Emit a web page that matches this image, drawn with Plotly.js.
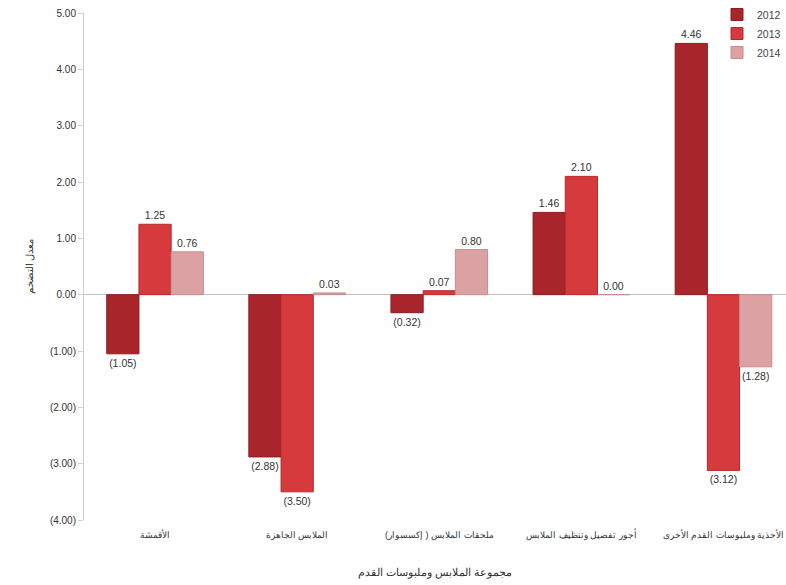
<!DOCTYPE html>
<html>
<head>
<meta charset="utf-8">
<script src="https://cdn.plot.ly/plotly-3.0.1.min.js"></script>
<style>html,body{margin:0;padding:0;background:#fff;}#chart{width:786px;height:585px;}</style>
</head>
<body>
<div id="chart"></div>
<script>
const categories = ["الأقمشة", "الملابس الجاهزة", "ملحقات الملابس ( إكسسوار)", "أجور تفصيل وتنظيف الملابس", "الأحذية وملبوسات القدم الأخرى"];
const values2012 = [-1.05, -2.88, -0.32, 1.46, 4.46];
const values2013 = [1.25, -3.50, 0.07, 2.10, -3.12];
const values2014 = [0.76, 0.03, 0.80, 0.00, -1.28];
const seriesNames = ["2012", "2013", "2014"];
const tickValues = [5, 4, 3, 2, 1, 0, -1, -2, -3, -4];
const tickLabels = ["5.00", "4.00", "3.00", "2.00", "1.00", "0.00", "(1.00)", "(2.00)", "(3.00)", "(4.00)"];

function fmt(v) {
  return v < 0 ? "(" + Math.abs(v).toFixed(2) + ")" : v.toFixed(2);
}
const colors = ["#a8262b", "#d63a3c", "#dca2a3"];
const lines = ["#8a1e22", "#b52a2d", "#c78c8d"];
const all = [values2012, values2013, values2014];

const traces = all.map((vals, i) => ({
  type: "bar",
  name: seriesNames[i],
  x: categories,
  y: vals,
  text: vals.map(fmt),
  textposition: "outside",
  cliponaxis: false,
  textfont: {family: "Liberation Sans, Arial, sans-serif", size: 10.5, color: "#333"},
  marker: {color: colors[i], line: {color: lines[i], width: 1}},
  hoverinfo: "none"
}));

const layout = {
  width: 786,
  height: 585,
  margin: {l: 84, r: 0, t: 0, b: 65},
  paper_bgcolor: "#fff",
  plot_bgcolor: "#fff",
  barmode: "group",
  bargap: 0.32,
  bargroupgap: 0,
  font: {family: "Liberation Sans, Arial, sans-serif", size: 10, color: "#333"},
  showlegend: true,
  legend: {
    x: 1, xanchor: "right", y: 1, yanchor: "top",
    font: {size: 10.5, color: "#444"},
    itemwidth: 30,
    tracegroupgap: 0,
    bgcolor: "rgba(0,0,0,0)"
  },
  xaxis: {
    range: [-0.5, 4.44],
    showgrid: false,
    zeroline: false,
    showline: false,
    ticks: "",
    ticklabelstandoff: 8,
    tickfont: {size: 9, color: "#333"},
    title: {text: "مجموعة الملابس وملبوسات القدم", font: {size: 11, color: "#333"}, standoff: 28},
    automargin: false
  },
  yaxis: {
    domain: [0, 0.975],
    range: [-4, 5],
    tickvals: tickValues,
    ticktext: tickLabels,
    showgrid: false,
    zeroline: true,
    zerolinecolor: "#bfbfbf",
    zerolinewidth: 1,
    showline: true,
    linecolor: "#d0d0d0",
    linewidth: 1,
    ticks: "outside",
    ticklen: 5,
    tickcolor: "#d0d0d0",
    tickfont: {size: 10, color: "#333"},
    title: {text: "معدل التضخم", font: {size: 10, color: "#333"}, standoff: 14},
    automargin: false
  }
};

Plotly.newPlot("chart", traces, layout, {displayModeBar: false, staticPlot: true});
</script>
</body>
</html>
